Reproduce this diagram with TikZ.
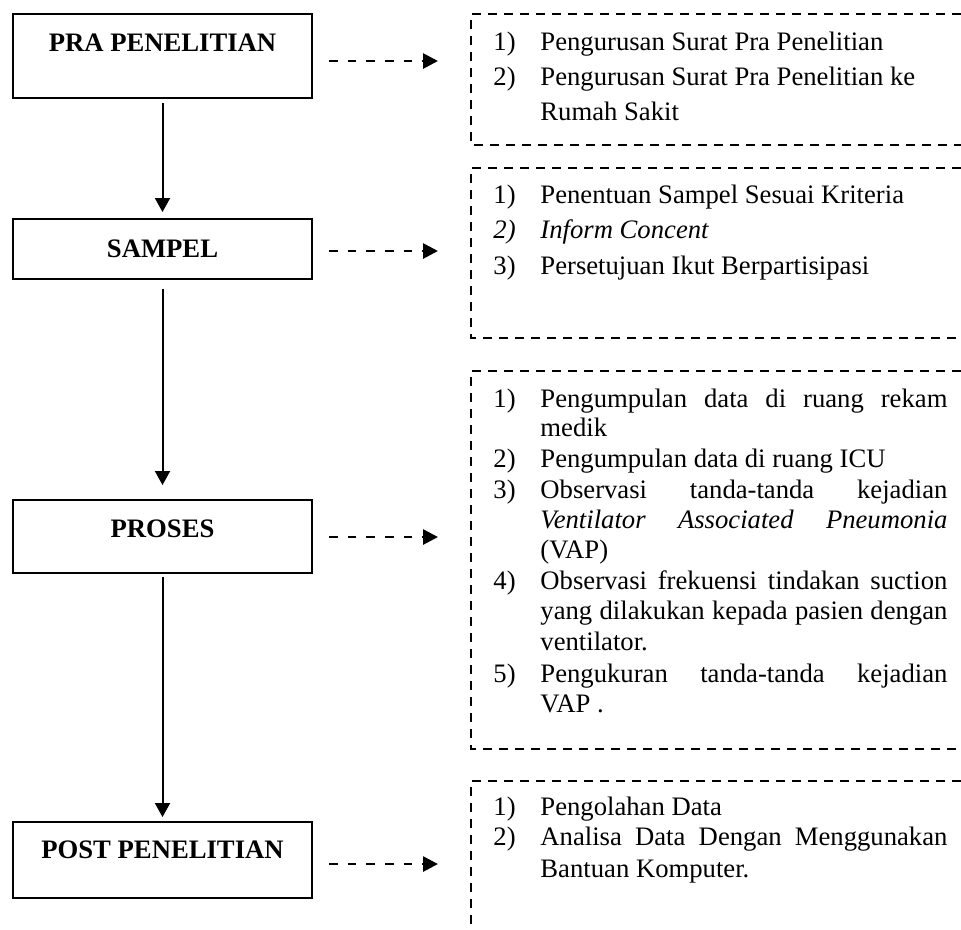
\documentclass[tikz,border=0pt]{standalone}
\usepackage{fontspec}
\setmainfont{Liberation Serif}
\usetikzlibrary{arrows.meta}
\newcommand\jline[1]{\makebox[183.15pt][s]{#1}}
\begin{document}
\begin{tikzpicture}[x=0.45pt,y=-0.45pt,
  font=\fontsize{12pt}{14pt}\selectfont,
  mainbox/.style={draw, line width=0.9pt, minimum width=134.55pt, inner sep=0pt, anchor=center},
  lbl/.style={font=\fontsize{12pt}{14pt}\selectfont\bfseries, inner sep=0pt, anchor=base},
  itm/.style={inner sep=0pt, anchor=base west},
  flow/.style={-{Triangle[length=6.3pt,width=6.75pt]}, line width=0.9pt},
  dflow/.style={-{Triangle[length=6.75pt,width=6.75pt]}, line width=1.25pt, dash pattern=on 3.9pt off 4.5pt},
  dbox/.style={line width=1.2pt, dash pattern=on 4.2pt off 3pt}]
\useasboundingbox (0,0) rectangle (961,929);

% main boxes
\node[mainbox, minimum height=37.8pt] (b1) at (162.5,56) {};
\node[mainbox, minimum height=27pt] (b2) at (162.5,249) {};
\node[mainbox, minimum height=32.85pt] (b3) at (162.5,536.5) {};
\node[mainbox, minimum height=34.2pt] (b4) at (162.5,860) {};
\node[lbl] (l1) at (162.5,51) {PRA PENELITIAN};
\node[lbl] (l2) at (162.5,257) {SAMPEL};
\node[lbl] (l3) at (162.5,537) {PROSES};
\node[lbl] (l4) at (162.5,858) {POST PENELITIAN};

% solid arrows
\draw[flow, shorten <=1.8pt, shorten >=2.7pt] (b1.south) -- (b2.north);
\draw[flow, shorten <=4pt, shorten >=6.3pt] (b2.south) -- (b3.north);
\draw[flow, shorten <=1.35pt, shorten >=1.8pt] (b3.south) -- (b4.north);

% dashed arrows
\coordinate (s1) at (329,61);  \coordinate (e1) at (438,61);
\coordinate (s2) at (329,251); \coordinate (e2) at (438,251);
\coordinate (s3) at (329,537); \coordinate (e3) at (438,537);
\coordinate (s4) at (329,864); \coordinate (e4) at (438,864);
\draw[dflow] (s1) -- (e1);
\draw[dflow] (s2) -- (e2);
\draw[dflow] (s3) -- (e3);
\draw[dflow] (s4) -- (e4);

% dashed boxes (open on the right)
\draw[dbox] (961,14) -- (471,14) -- (471,145) -- (961,145);
\draw[dbox] (961,168) -- (471,168) -- (471,338) -- (961,338);
\draw[dbox] (961,371) -- (471,371) -- (471,749) -- (961,749);
\draw[dbox] (961,781) -- (471,781) -- (471,929);

% box 1 items
\node[itm] (n11) at (493,50) {1)};
\node[itm] (t11) at (540,50) {Pengurusan Surat Pra Penelitian};
\node[itm] (n12) at (493,85) {2)};
\node[itm] (t12) at (540,85) {Pengurusan Surat Pra Penelitian ke};
\node[itm] (t12b) at (540,120) {Rumah Sakit};

% box 2 items
\node[itm] (n21) at (493,203) {1)};
\node[itm] (t21) at (540,203) {Penentuan Sampel Sesuai Kriteria};
\node[itm] (n22) at (493,238) {\itshape 2)};
\node[itm] (t22) at (540,238) {\itshape Inform Concent};
\node[itm] (n23) at (493,274) {3)};
\node[itm] (t23) at (540,274) {Persetujuan Ikut Berpartisipasi};

% box 3 items
\node[itm] (n31) at (493,407) {1)};
\node[itm] (t31) at (540,407) {\jline{Pengumpulan data di ruang rekam}};
\node[itm] (t31b) at (540,436) {medik};
\node[itm] (n32) at (493,467) {2)};
\node[itm] (t32) at (540,467) {Pengumpulan data di ruang ICU};
\node[itm] (n33) at (493,498) {3)};
\node[itm] (t33) at (540,498) {\jline{Observasi tanda-tanda kejadian}};
\node[itm] (t33b) at (540,528) {\jline{\itshape Ventilator Associated Pneumonia}};
\node[itm] (t33c) at (540,558) {(VAP)};
\node[itm] (n34) at (493,589) {4)};
\node[itm] (t34) at (540,589) {\jline{Observasi frekuensi tindakan suction}};
\node[itm] (t34b) at (540,619) {\jline{yang dilakukan kepada pasien dengan}};
\node[itm] (t34c) at (540,650) {ventilator.};
\node[itm] (n35) at (493,682) {5)};
\node[itm] (t35) at (540,682) {\jline{Pengukuran tanda-tanda kejadian}};
\node[itm] (t35b) at (540,712) {VAP .};

% box 4 items
\node[itm] (n41) at (493,815) {1)};
\node[itm] (t41) at (540,815) {Pengolahan Data};
\node[itm] (n42) at (493,845) {2)};
\node[itm] (t42) at (540,845) {\jline{Analisa Data Dengan Menggunakan}};
\node[itm] (t42b) at (540,877) {Bantuan Komputer.};
\end{tikzpicture}
\end{document}
